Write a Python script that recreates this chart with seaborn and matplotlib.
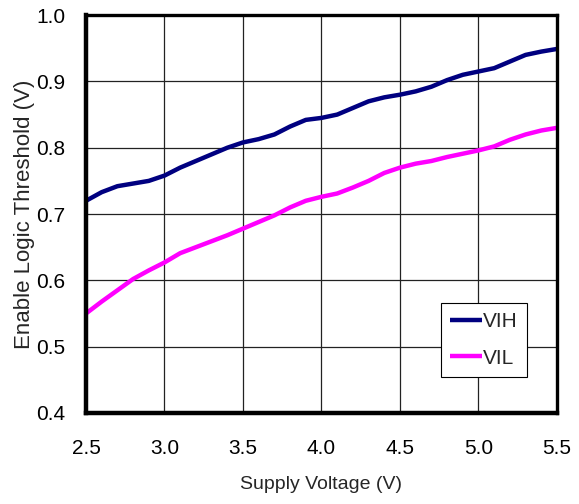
import matplotlib
matplotlib.use("Agg")
import matplotlib.pyplot as plt
import seaborn as sns
import pandas as pd

voltage = [2.5, 2.6, 2.7, 2.8, 2.9, 3.0, 3.1, 3.2, 3.3, 3.4, 3.5, 3.6, 3.7, 3.8, 3.9, 4.0,
           4.1, 4.2, 4.3, 4.4, 4.5, 4.6, 4.7, 4.8, 4.9, 5.0, 5.1, 5.2, 5.3, 5.4, 5.5]
vih = [0.720, 0.733, 0.742, 0.746, 0.750, 0.758, 0.770, 0.780, 0.790, 0.800, 0.808, 0.813,
       0.820, 0.832, 0.842, 0.845, 0.850, 0.860, 0.870, 0.876, 0.880, 0.885, 0.892, 0.902,
       0.910, 0.915, 0.920, 0.930, 0.940, 0.945, 0.949]
vil = [0.550, 0.568, 0.585, 0.602, 0.615, 0.627, 0.641, 0.650, 0.659, 0.668, 0.678, 0.688,
       0.698, 0.710, 0.720, 0.726, 0.731, 0.740, 0.750, 0.762, 0.770, 0.776, 0.780, 0.786,
       0.791, 0.796, 0.802, 0.812, 0.820, 0.826, 0.830]
series_names = ["VIH", "VIL"]
colors = ["#000080", "#FF00FF"]
x_ticks = [2.5, 3.0, 3.5, 4.0, 4.5, 5.0, 5.5]
y_ticks = [0.4, 0.5, 0.6, 0.7, 0.8, 0.9, 1.0]

df = pd.concat([
    pd.DataFrame({"V": voltage, "T": vih, "s": series_names[0]}),
    pd.DataFrame({"V": voltage, "T": vil, "s": series_names[1]}),
])

sns.set_style("white")
plt.rcParams["font.family"] = ["Liberation Sans", "DejaVu Sans"]

fig = plt.figure(figsize=(5.79, 5.04), dpi=100)
ax = fig.add_axes([0.1485, 0.1806, 0.8135, 0.7894])
sns.lineplot(data=df, x="V", y="T", hue="s", palette=colors, linewidth=3.2, ax=ax,
             legend=True, solid_joinstyle="round", solid_capstyle="butt")

ax.set_xlim(2.5, 5.5)
ax.set_ylim(0.4, 1.0)
ax.set_xticks(x_ticks)
ax.set_yticks(y_ticks)
ax.set_xticklabels([f"{t:.1f}" for t in x_ticks])
ax.set_yticklabels([f"{t:.1f}" for t in y_ticks])
ax.grid(True, color="#222222", linewidth=0.9)
ax.tick_params(axis="both", length=0, labelsize=15, colors="black")
ax.tick_params(axis="x", pad=19)
ax.tick_params(axis="y", pad=15)
for side in ["left", "bottom"]:
    ax.spines[side].set_linewidth(3.2)
for side in ["right", "top"]:
    ax.spines[side].set_linewidth(2.4)
for sp in ax.spines.values():
    sp.set_color("black")

ax.set_xlabel("Supply Voltage (V)", fontsize=14, labelpad=13)
ax.set_ylabel("Enable Logic Threshold (V)", fontsize=16, labelpad=1)

leg = ax.legend(loc="lower right", bbox_to_anchor=(0.936, 0.0905), fontsize=15,
                frameon=True, fancybox=False, handlelength=1.5, handletextpad=0.05,
                borderpad=0.45, labelspacing=0.85, borderaxespad=0)
leg.get_frame().set_edgecolor("black")
leg.get_frame().set_linewidth(0.8)
leg.get_frame().set_alpha(1)
for line in leg.get_lines():
    line.set_linewidth(3.2)

fig.savefig("out.png", dpi=100)
